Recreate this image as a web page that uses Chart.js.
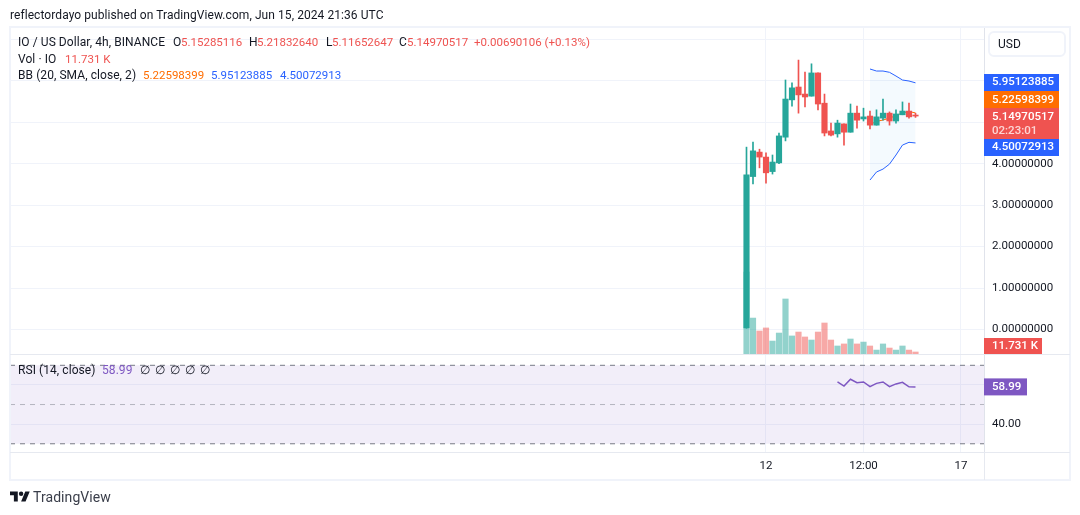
<!DOCTYPE html>
<html>
<head>
<meta charset="utf-8">
<script src="https://cdn.jsdelivr.net/npm/chart.js@4"></script>
<style>
  html, body { margin: 0; padding: 0; background: #fff; width: 1080px; height: 515px; overflow: hidden; }
  body { position: relative; font-family: Roboto, sans-serif; font-size: 12px; color: #131722; }
  canvas { position: absolute; left: 0; display: block; }
  .t { position: absolute; white-space: pre; line-height: 14px; letter-spacing: 0.07px; }
  .red, .org, .blu { font-size: 11.5px; letter-spacing: 0; }
  .red { color: #ef5350; } .org { color: #ff6d00; } .blu { color: #2962ff; } .pur { color: #7e57c2; }
  .line { position: absolute; background: #e6e9f0; }
  #frame { position: absolute; left: 9px; top: 26px; width: 1058px; height: 451px; border: 2px solid #f0f3fa; box-sizing: content-box; }
  #usd { position: absolute; left: 988px; top: 31px; width: 78px; height: 26px; box-sizing: border-box; border: 2px solid #f0f3fa; border-radius: 6px; padding: 4px 0 0 8px; line-height: 14px; }
</style>
</head>
<body>
<canvas id="mainPane" width="1080" height="354" style="top:0"></canvas>
<canvas id="rsiPane" width="1080" height="161" style="top:354px"></canvas>

<div id="frame"></div>
<div class="line" style="left:10px;top:354px;width:1060px;height:1px"></div>
<div class="line" style="left:10px;top:452px;width:1060px;height:1px"></div>
<div class="line" style="left:984px;top:452px;width:1px;height:28px"></div>
<div id="usd">USD</div>

<div class="t" style="left:10px;top:8px">reflectordayo published on TradingView.com, Jun 15, 2024 21:36 UTC</div>

<div class="t" style="left:18px;top:35px">IO / US Dollar, 4h, BINANCE</div>
<div class="t" style="left:173px;top:35px">O</div><div class="t red" style="left:181px;top:35px">5.15285116</div>
<div class="t" style="left:249px;top:35px">H</div><div class="t red" style="left:257px;top:35px">5.21832640</div>
<div class="t" style="left:326px;top:35px">L</div><div class="t red" style="left:332px;top:35px">5.11652647</div>
<div class="t" style="left:399px;top:35px">C</div><div class="t red" style="left:407px;top:35px">5.14970517</div>
<div class="t red" style="left:474px;top:35px">+0.00690106 (+0.13%)</div>

<div class="t" style="left:18px;top:52px">Vol · IO</div><div class="t red" style="left:65px;top:52px">11.731 K</div>

<div class="t" style="left:18px;top:68px">BB (20, SMA, close, 2)</div>
<div class="t org" style="left:143px;top:68px">5.22598399</div>
<div class="t blu" style="left:211px;top:68px">5.95123885</div>
<div class="t blu" style="left:280px;top:68px">4.50072913</div>

<div class="t" style="left:18px;top:363px">RSI (14, close)</div>
<div class="t pur" style="left:102px;top:363px">58.99</div>
<div class="t" style="left:140px;top:363px">∅</div>
<div class="t" style="left:155px;top:363px">∅</div>
<div class="t" style="left:170px;top:363px">∅</div>
<div class="t" style="left:185px;top:363px">∅</div>
<div class="t" style="left:200px;top:363px">∅</div>

<svg style="position:absolute;left:10px;top:489px" width="20" height="16" viewBox="0 0 36 28"><path fill="#131722" d="M14 22H7V11H0V4h14v18zM28 22h-8l7.5-18h8L28 22z"/><circle fill="#131722" cx="20" cy="8" r="4"/></svg>
<div class="t" style="left:33px;top:490px;font-size:14px;color:#3a3e4a">TradingView</div>

<script>
// Four-hour IO/USD candles, newest last
const opens  = [0.04, 3.69, 4.28, 4.16, 3.81, 4.02, 4.64, 5.54, 5.85, 5.68, 5.63, 6.19, 5.46, 4.79, 4.72, 4.96, 4.76, 5.22, 5.08, 5.15, 4.93, 5.10, 5.22, 5.03, 5.18, 5.27, 5.15285116];
const highs  = [4.40, 4.52, 4.35, 4.26, 4.21, 4.74, 6.02, 5.95, 6.50, 6.21, 6.41, 6.19, 5.68, 4.98, 5.05, 4.96, 5.44, 5.39, 5.34, 5.27, 5.30, 5.56, 5.25, 5.30, 5.49, 5.46, 5.2183264];
const lows   = [0.03, 3.51, 3.90, 3.53, 3.75, 4.00, 4.55, 5.39, 5.22, 5.37, 5.63, 5.30, 4.67, 4.67, 4.64, 4.45, 4.76, 4.86, 5.03, 4.84, 4.93, 5.05, 4.93, 4.98, 5.18, 5.10, 5.11652647];
const closes = [3.73, 4.31, 4.16, 3.78, 4.04, 4.67, 5.56, 5.83, 5.66, 5.61, 6.19, 5.44, 4.74, 4.69, 4.98, 4.76, 5.22, 5.05, 5.13, 4.93, 5.13, 5.22, 5.03, 5.20, 5.27, 5.13, 5.14970517];
// Volume in thousands of IO
const volumes = [481, 211, 135, 153, 76, 123, 323, 106, 129, 100, 82, 129, 182, 82, 47, 59, 88, 59, 70, 47, 23, 59, 35, 23, 47, 23, 11.731];

// Bollinger bands and RSI only exist for the later candles
const bbStart  = 19;
const bbUpper  = [6.285, 6.236, 6.236, 6.205, 6.115, 6.019, 5.995, 5.95123885];
const bbBasis  = [4.945, 5.020, 5.054, 5.100, 5.160, 5.228, 5.257, 5.22598399];
const bbLower  = [3.606, 3.800, 3.870, 3.990, 4.210, 4.450, 4.516, 4.50072913];
const rsiStart = 14;
const rsiValues = [61.5, 59.4, 62.9, 61.1, 61.5, 59.1, 60.8, 61.5, 59.1, 60.5, 61.3, 59.0, 58.99];

const timeTickIndex = [3, 18, 33];
const timeTickLabel = ['12', '12:00', '17'];
const priceTicks = [0, 1, 2, 3, 4, 5, 6, 7];
const labelledPriceTicks = [0, 1, 2, 3, 4];
const rsiGridTicks = [40, 60];
const rsiBands = [70, 50, 30];

const GREEN = '#26a69a', RED = '#ef5350', GRID = '#f0f3fa', AXIS = '#e0e3eb', INK = '#131722';
const AXIS_FONT = { family: 'Roboto, sans-serif', size: 11.5 };
const X_MIN = -113.31, X_MAX = 36.54;
const isUp = i => closes[i] >= opens[i];
const at = (start, arr) => arr.map((y, k) => ({ x: start + k, y }));

function dropScalePadding(s) {
  s.paddingTop = s.paddingBottom = s.paddingLeft = s.paddingRight = 0;
}

function xScale(showLabels) {
  return {
    type: 'linear', min: X_MIN, max: X_MAX, offset: false,
    afterBuildTicks: s => { s.ticks = timeTickIndex.map(value => ({ value })); },
    afterFit: s => { s.height = showLabels ? 28 : 0; dropScalePadding(s); },
    grid: { color: GRID, offset: false, drawTicks: false },
    border: { display: false },
    ticks: {
      display: showLabels, autoSkip: false, maxRotation: 0, color: INK, font: AXIS_FONT, padding: 7,
      callback: v => timeTickLabel[timeTickIndex.indexOf(v)]
    }
  };
}

function yAxisFit(s) { s.width = 86; dropScalePadding(s); }

// Coloured value tags on the price axis
function tag(ctx, area, top, width, height, fill, lines) {
  ctx.save();
  ctx.fillStyle = fill;
  ctx.fillRect(area.right, top, width, height);
  ctx.textBaseline = 'middle';
  ctx.textAlign = 'left';
  ctx.font = '500 11.5px Roboto, sans-serif';
  lines.forEach(l => {
    ctx.fillStyle = l.color || '#fff';
    ctx.fillText(l.text, area.right + 8, top + l.dy);
  });
  ctx.restore();
}

const priceTags = {
  id: 'priceTags',
  afterDraw(chart) {
    const a = chart.chartArea, c = chart.ctx;
    tag(c, a, 74, 75, 17, '#2962ff', [{ text: bbUpper[7].toFixed(8), dy: 8.5 }]);
    tag(c, a, 91, 75, 17, '#ff6d00', [{ text: bbBasis[7].toFixed(8), dy: 9 }]);
    tag(c, a, 108, 75, 31, RED, [
      { text: closes[26].toFixed(8), dy: 9 },
      { text: '02:23:01', dy: 23, color: '#fcd5d4' }
    ]);
    tag(c, a, 139, 75, 17, '#2962ff', [{ text: bbLower[7].toFixed(8), dy: 8.5 }]);
    tag(c, a, 338, 58, 16, RED, [{ text: '11.731 K', dy: 8.5 }]);
  }
};

const rsiTag = {
  id: 'rsiTag',
  afterDraw(chart) {
    const a = chart.chartArea, y = chart.scales.y.getPixelForValue(rsiValues[rsiValues.length - 1]);
    tag(chart.ctx, a, y - 8.5, 43, 17, '#7e57c2', [{ text: rsiValues[rsiValues.length - 1].toFixed(2), dy: 9 }]);
  }
};

new Chart(document.getElementById('mainPane'), {
  type: 'bar',
  data: {
    datasets: [
      { label: 'Candle body', order: 1, grouped: false, barThickness: 5.5, minBarLength: 1,
        data: opens.map((o, i) => ({ x: i, y: [o, closes[i]] })),
        backgroundColor: opens.map((_, i) => isUp(i) ? GREEN : RED) },
      { label: 'Candle wick', order: 2, grouped: false, barThickness: 1,
        data: lows.map((l, i) => ({ x: i, y: [l, highs[i]] })),
        backgroundColor: opens.map((_, i) => isUp(i) ? GREEN : RED) },
      { type: 'line', label: 'BB upper', order: 4, data: at(bbStart, bbUpper), borderColor: '#2962ff', borderWidth: 1,
        pointRadius: 0, tension: 0, fill: { target: 4 }, backgroundColor: 'rgba(33,150,243,0.05)' },
      { type: 'line', label: 'BB basis', order: 3, data: at(bbStart, bbBasis), borderColor: '#ff6d00', borderWidth: 1,
        pointRadius: 0, tension: 0, fill: false },
      { type: 'line', label: 'BB lower', order: 4, data: at(bbStart, bbLower), borderColor: '#2962ff', borderWidth: 1,
        pointRadius: 0, tension: 0, fill: false },
      { label: 'Volume', order: 6, grouped: false, barThickness: 5.5, yAxisID: 'yVol',
        data: volumes.map((v, i) => ({ x: i, y: v })),
        backgroundColor: opens.map((_, i) => isUp(i) ? 'rgba(38,166,154,0.5)' : 'rgba(239,83,80,0.5)') }
    ]
  },
  plugins: [priceTags],
  options: {
    responsive: false, animation: false, devicePixelRatio: 1,
    layout: { padding: { left: 10, right: 10, top: 28, bottom: 0 } },
    plugins: { legend: { display: false }, tooltip: { enabled: false } },
    scales: {
      x: xScale(false),
      y: {
        position: 'right', min: -0.591, max: 7.274, afterFit: yAxisFit,
        afterBuildTicks: s => { s.ticks = priceTicks.map(value => ({ value })); },
        grid: { color: GRID, drawTicks: false },
        border: { color: AXIS },
        ticks: {
          autoSkip: false, color: INK, font: AXIS_FONT, padding: 8,
          callback: v => labelledPriceTicks.includes(v) ? v.toFixed(8) : ''
        }
      },
      yVol: { display: false, min: 0, max: 1914 }
    }
  }
});

new Chart(document.getElementById('rsiPane'), {
  type: 'line',
  data: {
    datasets: [
      { label: 'RSI', order: 1, data: at(rsiStart, rsiValues), borderColor: '#7e57c2', borderWidth: 1.5, pointRadius: 0, tension: 0, fill: false },
      { label: 'Upper band', order: 5, data: [{ x: X_MIN, y: rsiBands[0] }, { x: X_MAX, y: rsiBands[0] }], borderColor: '#787b86', borderWidth: 1, borderDash: [5, 5], pointRadius: 0, fill: { target: 3 }, backgroundColor: 'rgba(126,87,194,0.1)' },
      { label: 'Middle band', order: 4, data: [{ x: X_MIN, y: rsiBands[1] }, { x: X_MAX, y: rsiBands[1] }], borderColor: 'rgba(120,123,134,0.5)', borderWidth: 1, borderDash: [5, 5], pointRadius: 0, fill: false },
      { label: 'Lower band', order: 4, data: [{ x: X_MIN, y: rsiBands[2] }, { x: X_MAX, y: rsiBands[2] }], borderColor: '#787b86', borderWidth: 1, borderDash: [5, 5], pointRadius: 0, fill: false }
    ]
  },
  plugins: [rsiTag],
  options: {
    responsive: false, animation: false, devicePixelRatio: 1,
    layout: { padding: { left: 10, right: 10, top: 1, bottom: 35 } },
    plugins: { legend: { display: false }, tooltip: { enabled: false } },
    scales: {
      x: xScale(true),
      y: {
        position: 'right', min: 25.8, max: 75.25, afterFit: yAxisFit,
        afterBuildTicks: s => { s.ticks = rsiGridTicks.map(value => ({ value })); },
        grid: { color: GRID, drawTicks: false },
        border: { color: AXIS },
        ticks: { autoSkip: false, color: INK, font: AXIS_FONT, padding: 8, callback: v => v === 40 ? v.toFixed(2) : '' }
      }
    }
  }
});
</script>
</body>
</html>
